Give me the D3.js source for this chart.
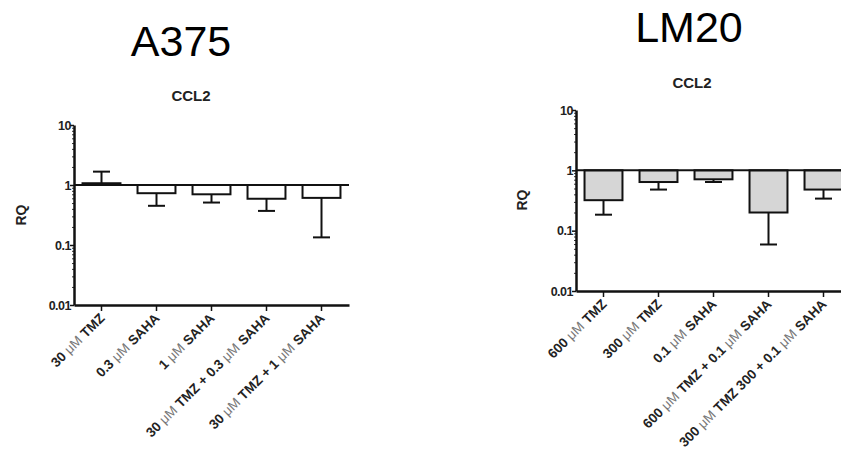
<!DOCTYPE html>
<html>
<head>
<meta charset="utf-8">
<script src="https://cdn.jsdelivr.net/npm/d3@7"></script>
<style>
  body { margin: 0; background: #fff; }
  svg { font-family: "Liberation Sans", Arial, sans-serif; }
</style>
</head>
<body>
<svg id="chart" width="841" height="463"></svg>
<script>
// data
const a375Labels = [
    ["30 ", "μM", " TMZ"],
    ["0.3 ", "μM", " SAHA"],
    ["1 ", "μM", " SAHA"],
    ["30 ", "μM", " TMZ + 0.3 ", "μM", " SAHA"],
    ["30 ", "μM", " TMZ + 1 ", "μM", " SAHA"]
];
const a375Values = [1.07, 0.73, 0.70, 0.59, 0.61];
const a375ErrEnd = [1.67, 0.45, 0.51, 0.37, 0.134];

const lm20Labels = [
    ["600 ", "μM", " TMZ"],
    ["300 ", "μM", " TMZ"],
    ["0.1 ", "μM", " SAHA"],
    ["600 ", "μM", " TMZ + 0.1 ", "μM", " SAHA"],
    ["300 ", "μM", " TMZ 300 + 0.1 ", "μM", " SAHA"]
];
const lm20Values = [0.32, 0.64, 0.71, 0.20, 0.48];
const lm20ErrEnd = [0.184, 0.48, 0.64, 0.059, 0.34];

const yTickValues = [0.01, 0.1, 1, 10];
const yTickLabels = ["0.01", "0.1", "1", "10"];

const svg = d3.select("#chart");

function drawPanel(opt) {
    const g = svg.append("g");
    const keys = opt.labels.map((d, i) => i);

    const x = d3.scaleBand()
        .domain(keys)
        .range([opt.left, opt.right])
        .paddingInner(0.31)
        .paddingOuter(0.155);

    const y = d3.scaleLog()
        .domain([0.01, 10])
        .range([opt.bottom, opt.top]);

    // titles
    svg.append("text")
        .attr("x", opt.titleX).attr("y", opt.titleY)
        .attr("text-anchor", "middle")
        .attr("font-size", "43px")
        .attr("fill", "#000")
        .text(opt.title);

    svg.append("text")
        .attr("x", opt.subX).attr("y", opt.subY)
        .attr("text-anchor", "middle")
        .attr("font-size", "15px")
        .attr("font-weight", "bold")
        .attr("fill", "#222")
        .text("CCL2");

    svg.append("text")
        .attr("transform", `translate(${opt.rqX},${opt.rqY}) rotate(-90)`)
        .attr("text-anchor", "middle")
        .attr("font-size", "14px")
        .attr("font-weight", "bold")
        .attr("fill", "#222")
        .text("RQ");

    // bars from 1 to the value
    g.selectAll("rect.bar")
        .data(opt.values)
        .join("rect")
        .attr("class", "bar")
        .attr("x", (d, i) => x(i))
        .attr("width", x.bandwidth())
        .attr("y", d => Math.min(y(d), y(1)))
        .attr("height", d => Math.abs(y(d) - y(1)))
        .attr("fill", opt.fill)
        .attr("stroke", "#111")
        .attr("stroke-width", 2);

    // error bars
    const capW = 17;
    g.selectAll("line.err")
        .data(opt.errEnd)
        .join("line")
        .attr("class", "err")
        .attr("x1", (d, i) => x(i) + x.bandwidth() / 2)
        .attr("x2", (d, i) => x(i) + x.bandwidth() / 2)
        .attr("y1", (d, i) => y(opt.values[i]))
        .attr("y2", d => y(d))
        .attr("stroke", "#111")
        .attr("stroke-width", 2);

    g.selectAll("line.cap")
        .data(opt.errEnd)
        .join("line")
        .attr("class", "cap")
        .attr("x1", (d, i) => x(i) + x.bandwidth() / 2 - capW / 2)
        .attr("x2", (d, i) => x(i) + x.bandwidth() / 2 + capW / 2)
        .attr("y1", d => y(d))
        .attr("y2", d => y(d))
        .attr("stroke", "#111")
        .attr("stroke-width", 2);

    // reference line at RQ = 1
    g.append("line")
        .attr("x1", opt.left).attr("x2", opt.right)
        .attr("y1", y(1)).attr("y2", y(1))
        .attr("stroke", "#111")
        .attr("stroke-width", 2);

    // minor log ticks
    const minor = [];
    [0.01, 0.1, 1].forEach(base => {
        for (let k = 2; k <= 9; k++) minor.push(base * k);
    });
    g.append("g")
        .attr("transform", `translate(${opt.left},0)`)
        .call(d3.axisLeft(y).tickValues(minor).tickSize(2).tickFormat(""))
        .call(a => a.select(".domain").remove())
        .call(a => a.selectAll("line").attr("stroke", "#333"));

    // y axis
    const yAxis = g.append("g")
        .attr("transform", `translate(${opt.left},0)`)
        .call(d3.axisLeft(y)
            .tickValues(yTickValues)
            .tickSize(4)
            .tickSizeOuter(0)
            .tickFormat((d, i) => yTickLabels[i]));
    yAxis.select(".domain").attr("stroke", "#111").attr("stroke-width", 2.5);
    yAxis.selectAll(".tick line").attr("stroke", "#111").attr("stroke-width", 1.5);
    yAxis.selectAll(".tick text")
        .attr("font-family", "Liberation Sans, Arial, sans-serif")
        .attr("font-size", "12.5px")
        .attr("font-weight", "bold")
        .attr("fill", "#222")
        .attr("letter-spacing", "-0.5px")
        .attr("x", -3);

    // x axis
    const xAxis = g.append("g")
        .attr("transform", `translate(0,${opt.bottom})`)
        .call(d3.axisBottom(x).tickSize(6).tickSizeOuter(0).tickFormat(""));
    xAxis.select(".domain").attr("stroke", "#111").attr("stroke-width", 2.5);
    xAxis.selectAll(".tick line").attr("stroke", "#111").attr("stroke-width", 1.5);

    const lbl = g.selectAll("text.xlab")
        .data(opt.labels)
        .join("text")
        .attr("class", "xlab")
        .attr("text-anchor", "end")
        .attr("font-size", "13.5px")
        .attr("font-weight", "bold")
        .attr("fill", "#222")
        .attr("transform", (d, i) =>
            `translate(${x(i) + x.bandwidth() / 2 + 4},${opt.bottom + 14}) rotate(-45)`);

    lbl.each(function (parts) {
        const t = d3.select(this);
        parts.forEach(p => {
            const s = t.append("tspan").text(p);
            if (p === "μM") s.attr("font-weight", "normal").attr("fill", "#777");
        });
    });
}

drawPanel({
    title: "A375", titleX: 181, titleY: 56,
    subX: 191, subY: 101,
    rqX: 26, rqY: 215,
    left: 74, right: 349, top: 125, bottom: 305,
    labels: a375Labels, values: a375Values, errEnd: a375ErrEnd,
    fill: "#ffffff"
});

drawPanel({
    title: "LM20", titleX: 689, titleY: 42,
    subX: 692, subY: 88,
    rqX: 527, rqY: 200,
    left: 576, right: 851, top: 110, bottom: 291,
    labels: lm20Labels, values: lm20Values, errEnd: lm20ErrEnd,
    fill: "#d6d6d6"
});
</script>
</body>
</html>
